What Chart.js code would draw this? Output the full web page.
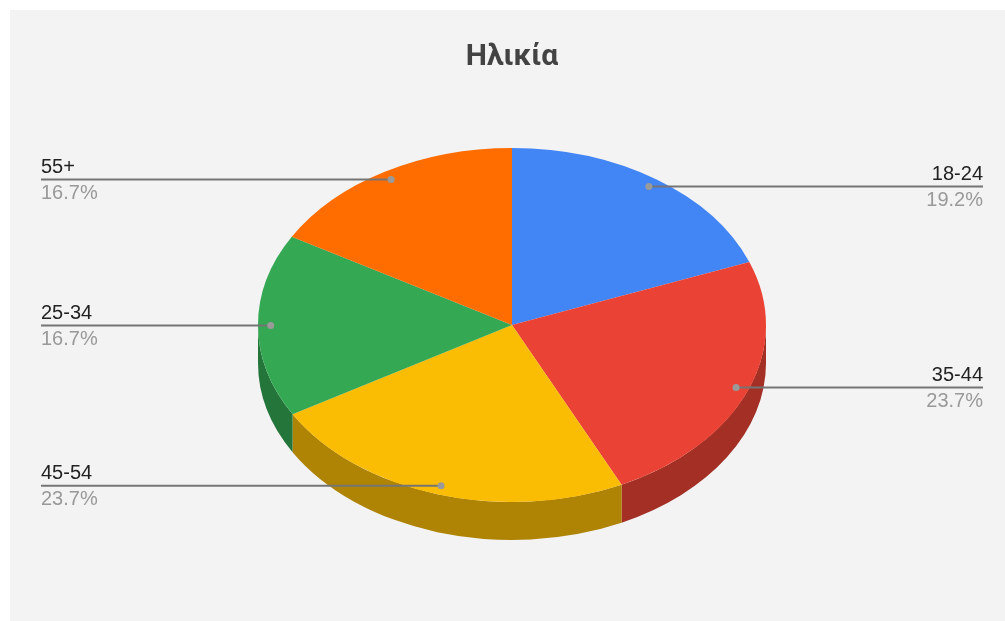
<!DOCTYPE html>
<html>
<head>
<meta charset="utf-8">
<style>
html,body{margin:0;padding:0;background:#fff;overflow:hidden}
#wrap{width:1005px;height:621px;position:relative}
canvas{display:block}
</style>
<script src="https://cdn.jsdelivr.net/npm/chart.js@4"></script>
</head>
<body>
<div id="wrap"><canvas id="c" width="1005" height="621"></canvas></div>
<script>
const chartTitle = 'Ηλικία';
const categories = ['18-24', '35-44', '45-54', '25-34', '55+'];
const shares = [19.2, 23.7, 23.7, 16.7, 16.7];
const shareLabels = ['19.2%', '23.7%', '23.7%', '16.7%', '16.7%'];
const topColors = ['#4285f4', '#ea4335', '#fbbc04', '#34a853', '#ff6d01'];
const wallColors = ['#2e5daa', '#a42f25', '#af8303', '#24753a', '#b24c01'];

const SQUASH = 177 / 254, DEPTH = 38, LEFT_X = 41, RIGHT_X = 983;

const pseudo3d = {
  id: 'pseudo3d',
  beforeDraw(chart) {
    const ctx = chart.ctx;
    ctx.save();
    ctx.fillStyle = '#f3f3f3';
    ctx.fillRect(10, 10, chart.width - 10, chart.height - 10);
    ctx.restore();
  },
  beforeDatasetsDraw(chart) {
    const ctx = chart.ctx;
    const arcs = chart.getDatasetMeta(0).data;
    arcs.forEach((arc, i) => {
      const p = arc.getProps(['x', 'y', 'startAngle', 'endAngle', 'outerRadius'], true);
      const ry = p.outerRadius * SQUASH;
      const a0 = Math.max(p.startAngle, 0), a1 = Math.min(p.endAngle, Math.PI);
      const b0 = Math.max(p.startAngle - 2 * Math.PI, 0), b1 = Math.min(p.endAngle - 2 * Math.PI, Math.PI);
      [[a0, a1], [b0, b1]].forEach(([s, e]) => {
        if (e <= s) return;
        ctx.beginPath();
        ctx.ellipse(p.x, p.y, p.outerRadius, ry, 0, s, e);
        ctx.ellipse(p.x, p.y + DEPTH, p.outerRadius, ry, 0, e, s, true);
        ctx.closePath();
        ctx.fillStyle = wallColors[i];
        ctx.fill();
      });
    });
    ctx.save();
    const cx = arcs[0].x, cy = arcs[0].y;
    ctx.translate(cx, cy);
    ctx.scale(1, SQUASH);
    ctx.translate(-cx, -cy);
  },
  afterDatasetsDraw(chart) {
    const ctx = chart.ctx;
    ctx.restore();
    const arcs = chart.getDatasetMeta(0).data;
    arcs.forEach((arc, i) => {
      const p = arc.getProps(['x', 'y', 'startAngle', 'endAngle', 'outerRadius'], true);
      const mid = (p.startAngle + p.endAngle) / 2;
      const ax = p.x + Math.cos(mid) * p.outerRadius * 0.95;
      const ay = p.y + Math.sin(mid) * p.outerRadius * 0.95 * SQUASH;
      const right = Math.cos(mid) > 0;
      const ex = right ? RIGHT_X : LEFT_X;
      ctx.beginPath();
      ctx.moveTo(ax, ay);
      ctx.lineTo(ex, ay);
      ctx.lineWidth = 2;
      ctx.strokeStyle = '#757575';
      ctx.stroke();
      ctx.beginPath();
      ctx.arc(ax, ay, 3.5, 0, Math.PI * 2);
      ctx.fillStyle = '#9a9a9a';
      ctx.fill();
      ctx.font = '20px "Liberation Sans", Arial, sans-serif';
      ctx.textAlign = right ? 'right' : 'left';
      ctx.textBaseline = 'alphabetic';
      ctx.fillStyle = '#222222';
      ctx.fillText(chart.data.labels[i], ex, ay - 6.5);
      ctx.fillStyle = '#999999';
      ctx.fillText(shareLabels[i], ex, ay + 19.5);
    });
  }
};

new Chart(document.getElementById('c'), {
  type: 'pie',
  data: {
    labels: categories,
    datasets: [{ data: shares, backgroundColor: topColors, borderWidth: 0, hoverOffset: 0, radius: 254 }]
  },
  options: {
    responsive: false,
    animation: false,
    layout: { padding: { left: 258, right: 239, top: 0, bottom: 46 } },
    plugins: {
      legend: { display: false },
      tooltip: { enabled: false },
      title: {
        display: true,
        text: chartTitle,
        color: '#434343',
        font: { family: 'Roboto, sans-serif', size: 30, weight: 'bold', lineHeight: 1.2 },
        padding: { top: 39, bottom: 0 }
      }
    }
  },
  plugins: [pseudo3d]
});
</script>
</body>
</html>
